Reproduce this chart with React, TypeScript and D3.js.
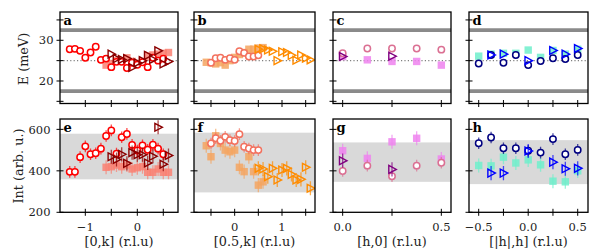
import React from 'react';
import * as d3 from 'd3';

// ---------- data ----------
// panel a / e  ([0,k])
const aCircX = [-1.3, -1.2, -1.1, -1.0, -0.9, -0.8, -0.7, -0.6, -0.5, -0.4, -0.3, -0.2, -0.1, 0.0, 0.1, 0.2, 0.3, 0.4, 0.5];
const aCircE = [27.8, 27.9, 27.4, 25.7, 27.0, 28.4, 25.2, 25.5, 23.4, 24.7, 24.7, 23.2, 24.5, 24.0, 24.6, 23.4, 25.7, 25.0, 25.5];
const aCircI = [395, 395, 466, 518, 480, 485, 507, 568, 595, 483, 562, 578, 525, 498, 523, 502, 526, 507, 480];
const aTriX = [-0.5, -0.4, -0.3, -0.2, -0.1, 0.0, 0.1, 0.2, 0.3, 0.4, 0.5, 0.6];
const aTriE = [26.6, 25.5, 25.3, 25.5, 23.3, 24.5, 25.0, 26.3, 25.3, 27.4, 24.2, 24.8];
const aTriI = [468, 455, 480, 436, 488, 478, 478, 438, 470, 610, 432, 474];
const aSqX = [-0.6, -0.5, -0.4, -0.3, -0.2, -0.1, 0.0, 0.1, 0.2, 0.3, 0.4, 0.5, 0.6];
const aSqE = [23.9, 24.3, 25.0, 25.0, 25.7, 24.8, 24.3, 24.8, 26.1, 26.4, 26.6, 26.8, 27.0];
const aSqI = [417, 420, 428, 420, 428, 409, 415, 420, 393, 393, 409, 393, 393];

// panel b / f  ([0.5,k])
const bCircX = [-0.5, -0.4, -0.3, -0.2, -0.1, 0.0, 0.1, 0.2, 0.3, 0.4, 0.5];
const bCircE = [24.5, 25.6, 25.7, 25.2, 25.6, 25.2, 27.3, 26.9, 26.0, 26.0, 26.3];
const bCircI = [532, 557, 545, 564, 548, 544, 577, 516, 508, 500, 500];
const bSqX = [-0.6, -0.5, -0.4, -0.3, -0.2, -0.1, 0.0, 0.1, 0.2, 0.3, 0.4, 0.5, 0.6];
const bSqE = [24.6, 24.5, 24.2, 24.5, 23.9, 25.0, 25.8, 26.5, 27.0, 27.8, 27.8, 28.1, 28.2];
const bSqI = [521, 468, 569, 532, 500, 492, 500, 417, 396, 468, 396, 331, 347];
const bTriX = [0.5, 0.6, 0.7, 0.8, 0.9, 1.0, 1.1, 1.2, 1.3, 1.4, 1.5, 1.6];
const bTriE = [27.8, 27.9, 27.6, 27.3, 25.0, 27.2, 27.0, 26.3, 25.1, 26.4, 25.6, 25.2];
const bTriI = [412, 409, 372, 412, 356, 404, 412, 383, 356, 359, 417, 316];

// panel c / g  ([h,0])
const cX = [0.0, 0.125, 0.25, 0.375, 0.5];
const cCircE = [26.8, 28.0, 28.0, 28.0, 27.7];
const cCircI = [399, 425, 374, 425, 439];
const cSqE = [26.0, 25.2, 24.8, 24.8, 23.9];
const cSqI = [497, 460, 540, 557, 457];
const cTriX = [0.0, 0.25];
const cTriE = [26.0, 26.1];
const cTriI = [449, 407];

// panel d / h  ([|h|,h])
const dX = [-0.5, -0.375, -0.25, -0.125, 0.0, 0.125, 0.25, 0.375, 0.5];
const dCircE = [24.3, 26.4, 24.5, 26.4, 23.9, 24.9, 25.6, 25.4, 26.4];
const dCircI = [533, 561, 509, 509, 497, 488, 553, 480, 501];
const dSqE = [26.1, 26.6, 26.8, 26.8, 27.6, 25.8, 27.5, 26.6, 27.8];
const dSqI = [426, 424, 466, 438, 453, 429, 350, 347, 400];
const dTriX = [-0.375, -0.25, 0.0, 0.25, 0.375, 0.5];
const dTriE = [26.4, 26.6, 25.0, 27.5, 26.6, 28.0];
const dTriI = [389, 389, 496, 442, 410, 412];

// error half-widths (constant per series)
const errCirc = 28;
const errSq = 34;
const errTri = 34;

// gray bands (intensity)
const bandLo = [359, 296, 347, 336];
const bandHi = [579, 584, 537, 548];

// energy reference lines
const eLines = [17.5, 32.5];
const eDotted = 25;

const panelLetters = [['a', 'b', 'c', 'd'], ['e', 'f', 'g', 'h']];
const xLabels = ['[0,k] (r.l.u)', '[0.5,k] (r.l.u)', '[h,0] (r.l.u)', '[|h|,h] (r.l.u)'];
const xTicks = [[-1, -0.5, 0, 0.5], [-0.5, 0, 0.5, 1, 1.5], [0, 0.25, 0.5], [-0.5, -0.25, 0, 0.25, 0.5]];
const xTickLabelVals = [[-1, 0], [0, 1], [0, 0.5], [-0.5, 0, 0.5]];
const xTickLabelTxt = [['−1', '0'], ['0', '1'], ['0.0', '0.5'], ['−0.5', '0.0', '0.5']];
const eTicks = [15, 20, 25, 30, 35];
const eTickLabels = [20, 30];
const iTicks = [200, 400, 600];

// ---------- layout ----------
const SVG_W = 600;
const SVG_H = 250;
const FONT = "'DejaVu Serif', serif";
const panelsX = [
  { left: 60, right: 178, dom: [-1.487, 0.783] },
  { left: 194, right: 315, dom: [-0.859, 1.697] },
  { left: 333, right: 451, dom: [-0.049, 0.549] },
  { left: 469, right: 588, dom: [-0.598, 0.604] },
];
const topRow = { top: 12, bottom: 103.5, dom: [14.47, 36.95] };
const botRow = { top: 119, bottom: 212.3, dom: [200, 650] };

const panelSeries = [
  [
    { x: aSqX, e: aSqE, i: aSqI, shape: 'sq', color: '#FA8072' },
    { x: aCircX, e: aCircE, i: aCircI, shape: 'circ', color: '#FF0000' },
    { x: aTriX, e: aTriE, i: aTriI, shape: 'tri', color: '#8B0000' },
  ],
  [
    { x: bSqX, e: bSqE, i: bSqI, shape: 'sq', color: '#F4A460' },
    { x: bCircX, e: bCircE, i: bCircI, shape: 'circ', color: '#F3715E' },
    { x: bTriX, e: bTriE, i: bTriI, shape: 'tri', color: '#FF8C00' },
  ],
  [
    { x: cX, e: cSqE, i: cSqI, shape: 'sq', color: '#EE82EE' },
    { x: cX, e: cCircE, i: cCircI, shape: 'circ', color: '#DB7093' },
    { x: cTriX, e: cTriE, i: cTriI, shape: 'tri', color: '#800080' },
  ],
  [
    { x: dX, e: dSqE, i: dSqI, shape: 'sq', color: '#6EEFCB' },
    { x: dX, e: dCircE, i: dCircI, shape: 'circ', color: '#000080' },
    { x: dTriX, e: dTriE, i: dTriI, shape: 'tri', color: '#0000FF' },
  ],
];

function Marker(props: { shape: string; cx: number; cy: number; color: string }) {
  const { shape, cx, cy, color } = props;
  if (shape === 'circ') return <circle cx={cx} cy={cy} r={3.2} fill="white" stroke={color} strokeWidth={1.5} />;
  if (shape === 'sq') return <rect x={cx - 3.7} y={cy - 3.7} width={7.4} height={7.4} fill={color} fillOpacity={0.85} />;
  return <path d={`M${cx - 3.2},${cy - 3.9}L${cx + 4.3},${cy}L${cx - 3.2},${cy + 3.9}Z`} fill="none" stroke={color} strokeWidth={1.4} />;
}

function Panel(props: { col: number; row: number }) {
  const { col, row } = props;
  const p = panelsX[col];
  const r = row === 0 ? topRow : botRow;
  const x = d3.scaleLinear().domain(p.dom).range([p.left, p.right]);
  const y = d3.scaleLinear().domain(r.dom).range([r.bottom, r.top]);
  const series = panelSeries[col];
  const clipId = `clip-${col}-${row}`;
  const yTicks = row === 0 ? eTicks : iTicks;
  return (
    <g>
      <defs>
        <clipPath id={clipId}>
          <rect x={p.left} y={r.top} width={p.right - p.left} height={r.bottom - r.top} />
        </clipPath>
      </defs>
      <g clipPath={`url(#${clipId})`}>
        {row === 0 ? (
          <g>
            {eLines.map((v) => (
              <line key={v} x1={p.left} x2={p.right} y1={y(v)} y2={y(v)} stroke="#8a8a8a" strokeWidth={3.6} />
            ))}
            <line x1={p.left} x2={p.right} y1={y(eDotted)} y2={y(eDotted)} stroke="#808080" strokeWidth={1.2} strokeDasharray="1.2,2.2" />
            {series.map((s, si) => (
              <g key={si}>
                {s.x.map((xv, k) => (
                  <Marker key={k} shape={s.shape} cx={x(xv)} cy={y(s.e[k])} color={s.color} />
                ))}
              </g>
            ))}
          </g>
        ) : (
          <g>
            <rect x={p.left} width={p.right - p.left} y={y(bandHi[col])} height={y(bandLo[col]) - y(bandHi[col])} fill="#d9d9d9" />
            {series.map((s, si) => {
              const err = s.shape === 'circ' ? errCirc : s.shape === 'sq' ? errSq : errTri;
              return (
                <g key={si}>
                  {s.x.map((xv, k) => (
                    <line key={'e' + k} x1={x(xv)} x2={x(xv)} y1={y(s.i[k] - err)} y2={y(s.i[k] + err)} stroke={s.color} strokeOpacity={0.7} strokeWidth={1.3} />
                  ))}
                  {s.x.map((xv, k) => (
                    <Marker key={k} shape={s.shape} cx={x(xv)} cy={y(s.i[k])} color={s.color} />
                  ))}
                </g>
              );
            })}
          </g>
        )}
      </g>
      <rect x={p.left} y={r.top} width={p.right - p.left} height={r.bottom - r.top} fill="none" stroke="black" strokeWidth={1.3} />
      {yTicks.map((t) => (
        <line key={'yt' + t} x1={p.left - 3.5} x2={p.left + 3.5} y1={y(t)} y2={y(t)} stroke="black" strokeWidth={1} />
      ))}
      {xTicks[col].map((t) => (
        <line key={'xt' + t} x1={x(t)} x2={x(t)} y1={r.bottom - 3.5} y2={r.bottom + 3.5} stroke="black" strokeWidth={1} />
      ))}
      {col === 0 &&
        (row === 0 ? eTickLabels : iTicks).map((t) => (
          <text key={'yl' + t} x={p.left - (row === 0 ? 6.5 : 9.5)} y={y(t)} dy="0.36em" textAnchor="end" fontSize={11.5} fill="#222" style={{ fontFamily: FONT }}>
            {t}
          </text>
        ))}
      {row === 1 &&
        xTickLabelVals[col].map((t, k) => (
          <text key={'xl' + k} x={x(t)} y={230.5} textAnchor="middle" fontSize={11.5} fill="#222" style={{ fontFamily: FONT }}>
            {xTickLabelTxt[col][k]}
          </text>
        ))}
      <text x={p.left + 3.5} y={r.top + 12.5} fontSize={13} fontWeight="bold" style={{ fontFamily: FONT }}>
        {panelLetters[row][col]}
      </text>
      {row === 1 && (
        <text x={(p.left + p.right) / 2} y={245.5} textAnchor="middle" fontSize={12.8} fill="#222" style={{ fontFamily: FONT }}>
          {xLabels[col]}
        </text>
      )}
    </g>
  );
}

export default function App() {
  const rows = [0, 1];
  const cols = [0, 1, 2, 3];
  return (
    <svg width={SVG_W} height={SVG_H} style={{ position: 'absolute', left: 0, top: 0, background: 'white' }}>
      <rect width={SVG_W} height={SVG_H} fill="white" />
      {rows.map((row) => cols.map((col) => <Panel key={`${row}-${col}`} col={col} row={row} />))}
      <text transform="translate(28,59) rotate(-90)" textAnchor="middle" fontSize={12.8} fill="#222" style={{ fontFamily: FONT }}>
        E (meV)
      </text>
      <text transform="translate(22.5,166) rotate(-90)" textAnchor="middle" fontSize={12.8} fill="#222" style={{ fontFamily: FONT }}>
        Int (arb. u.)
      </text>
    </svg>
  );
}
